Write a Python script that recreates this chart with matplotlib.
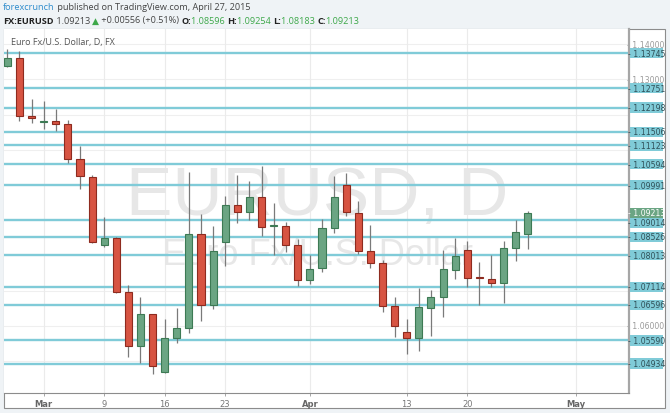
import numpy as np
import pandas as pd
import matplotlib
matplotlib.use("Agg")
import matplotlib.pyplot as plt
from matplotlib.patches import Rectangle

# EURUSD daily candles, Feb 25 - Apr 27 2015
dates = pd.bdate_range("2015-02-25", periods=44)
opens = [1.1337, 1.1359, 1.1196, 1.1180, 1.1182, 1.1173, 1.1074, 1.1024, 1.0829, 1.0849,
         1.0697, 1.0544, 1.0633, 1.0469, 1.0565, 1.0595, 1.0860, 1.0660, 1.0837, 1.0943,
         1.0923, 1.0967, 1.0883, 1.0885, 1.0830, 1.0731, 1.0764, 1.0877, 1.1001, 1.0921,
         1.0814, 1.0778, 1.0657, 1.0584, 1.0565, 1.0652, 1.0683, 1.0760, 1.0816, 1.0738,
         1.0733, 1.0722, 1.0821, 1.08596]
highs = [1.1386, 1.1379, 1.1244, 1.1239, 1.1216, 1.1184, 1.1112, 1.1029, 1.0908, 1.0852,
         1.0717, 1.0683, 1.0633, 1.0620, 1.0650, 1.1036, 1.0918, 1.0883, 1.0970, 1.1028,
         1.1012, 1.1053, 1.0949, 1.0894, 1.0847, 1.0800, 1.0904, 1.1025, 1.1034, 1.0954,
         1.0887, 1.0787, 1.0683, 1.0620, 1.0707, 1.0702, 1.0817, 1.0849, 1.0842, 1.0781,
         1.0801, 1.0842, 1.0902, 1.09254]
lows = [1.1336, 1.1182, 1.1175, 1.1159, 1.1154, 1.1062, 1.0989, 1.0835, 1.0823, 1.0694,
        1.0511, 1.0495, 1.0463, 1.0468, 1.0552, 1.0580, 1.0615, 1.0648, 1.0769, 1.0892,
        1.0902, 1.0855, 1.0801, 1.0809, 1.0714, 1.0719, 1.0752, 1.0864, 1.0911, 1.0804,
        1.0764, 1.0639, 1.0570, 1.0521, 1.0530, 1.0573, 1.0626, 1.0733, 1.0712, 1.0660,
        1.0710, 1.0665, 1.0785, 1.08183]
closes = [1.1359, 1.1195, 1.1189, 1.1181, 1.1173, 1.1074, 1.1025, 1.0837, 1.0850, 1.0697,
          1.0544, 1.0633, 1.0487, 1.0565, 1.0595, 1.0860, 1.0660, 1.0814, 1.0943, 1.0923,
          1.0967, 1.0882, 1.0884, 1.0831, 1.0731, 1.0762, 1.0877, 1.0967, 1.0923, 1.0814,
          1.0779, 1.0658, 1.0599, 1.0565, 1.0653, 1.0683, 1.0761, 1.0799, 1.0736, 1.0735,
          1.0721, 1.0821, 1.0866, 1.09213]

levels = [1.13745, 1.12751, 1.12198, 1.11506, 1.11123, 1.10594, 1.09991,
          1.09014, 1.08526, 1.08013, 1.07114, 1.06596, 1.05590, 1.04934]
last_price = 1.09213
grid_prices = [1.05, 1.06, 1.07, 1.08, 1.09, 1.10, 1.11, 1.12, 1.13, 1.14]
scale_labels = [1.06, 1.13, 1.14]   # round prices not hidden behind the level boxes
date_ticks = ["2015-03-02", "2015-03-09", "2015-03-16", "2015-03-23",
              "2015-04-01", "2015-04-13", "2015-04-20", "2015-05-01"]
date_labels = ["Mar", "9", "16", "23", "Apr", "13", "20", "May"]

W, H = 670, 414
UP, DOWN = "#6ba583", "#d75442"
UP_EDGE, DOWN_EDGE = "#3d7a54", "#8e2b1f"
LEVEL_C = "#80cbd8"


def fpos(x, y):
    return x / W, 1 - y / H


fig = plt.figure(figsize=(W / 100, H / 100), dpi=100, facecolor="#eff3f6")
frame = Rectangle(fpos(4, 409), 661 / W, 379 / H, transform=fig.transFigure,
                  facecolor="white", edgecolor="#8c8c8c", lw=0.8, zorder=0)
fig.add_artist(frame)

ax = fig.add_axes([4 / W, 1 - 394 / H, 625 / W, 364 / H])
ax.set_facecolor("white")
ax.set_xlim(-0.28, 51.37)
ax.set_ylim(1.04099, 1.14426)

x = np.arange(len(dates))
o = np.array(opens); c = np.array(closes)
hi = np.array(highs); lo = np.array(lows)
up = c >= o

# grid
for p in grid_prices:
    ax.axhline(p, color="#efefef", lw=0.8, zorder=0)
all_days = pd.bdate_range(dates[0], "2015-05-01")
tick_x = [all_days.get_loc(pd.Timestamp(d)) for d in date_ticks]
for tx in tick_x:
    ax.axvline(tx, color="#ebebeb", lw=0.8, zorder=0)

# watermark
ax.text(0.5008, 0.492, "EURUSD, D", transform=ax.transAxes, ha="center", va="baseline",
        fontsize=50, color="#e7e7e7", family="Liberation Sans", zorder=0)
ax.text(0.5008, 0.355, "Euro Fx/U.S. Dollar", transform=ax.transAxes, ha="center",
        va="baseline", fontsize=26, color="#e7e7e7", family="Liberation Sans", zorder=0)

# support / resistance lines
for lv in levels:
    ax.axhline(lv, color=LEVEL_C, lw=1.7, zorder=2)

# candles
ax.vlines(x, lo, hi, color="#7a7a7a", lw=0.9, zorder=3)
body = np.maximum(np.abs(c - o), 0.0003)
ax.bar(x, body, bottom=np.minimum(o, c), width=0.58,
       color=np.where(up, UP, DOWN), edgecolor=np.where(up, UP_EDGE, DOWN_EDGE),
       lw=0.8, zorder=4)

# axes styling
for s in ["top", "left"]:
    ax.spines[s].set_visible(False)
ax.spines["right"].set_color("#a6a6a6")
ax.spines["right"].set_linewidth(1.6)
ax.spines["bottom"].set_color("#8c8c8c")
ax.spines["bottom"].set_linewidth(0.8)
ax.set_yticks([])
ax.set_xticks(tick_x)
ax.set_xticklabels(date_labels)
ax.tick_params(axis="x", length=2, width=0.6, color="#999999", pad=2,
               labelsize=6, labelcolor="#777777")
for lab in ax.get_xticklabels():
    if lab.get_text() in ("Mar", "Apr", "May"):
        lab.set_fontweight("bold")
        lab.set_color("#666666")

# right price scale
yt = ax.get_yaxis_transform()
bh = 0.0029


def price_box(p, ypos, face, tcol):
    ax.add_patch(Rectangle((1.0016, ypos - bh / 2), 0.0528, bh, transform=yt,
                           facecolor=face, edgecolor="none", clip_on=False, zorder=5))
    ax.text(1.028, ypos, "- %.5f" % p, transform=yt, ha="center", va="center",
            fontsize=5.6, color=tcol, clip_on=False, zorder=6)


for p in scale_labels:
    ax.text(1.027, p, "- %.5f" % p, transform=yt, ha="center", va="center",
            fontsize=5.6, color="#9a9a9a", clip_on=False, zorder=1)
for lv in levels:
    ypos = lv
    # the scale pushes a label down when it would collide with the last price
    if abs(lv - last_price) < bh and lv < last_price:
        ypos = last_price - bh
    price_box(lv, ypos, LEVEL_C, "#2f4f57")
price_box(last_price, last_price, UP, "white")

# legend line inside chart
fig.text(*fpos(11, 43), "Euro Fx/U.S. Dollar, D, FX", fontsize=6.5, color="#555555",
         va="center", family="Open Sans")

# header
renderer = fig.canvas.get_renderer()


def write_line(y, parts, x0=3):
    xp = x0
    for txt, col, wt in parts:
        t = fig.text(*fpos(xp, y), txt, fontsize=6.6, color=col, fontweight=wt,
                     va="center", family=["Open Sans", "DejaVu Sans"])
        xp = t.get_window_extent(renderer).x1 * W / fig.bbox.width


GREEN = "#3ea84a"
write_line(7, [("forexcrunch", "#2f8ccc", "normal"),
               (" published on TradingView.com, April 27, 2015", "#444444", "normal")])
write_line(21, [("FX:EURUSD", "#222222", "bold"), (" 1.09213 ", "#444444", "normal"),
                ("▲", GREEN, "normal"), (" +0.00556 (+0.51%) ", "#444444", "normal"),
                ("O:", "#222222", "bold"), ("1.08596 ", GREEN, "normal"),
                ("H:", "#222222", "bold"), ("1.09254 ", GREEN, "normal"),
                ("L:", "#222222", "bold"), ("1.08183 ", GREEN, "normal"),
                ("C:", "#222222", "bold"), ("1.09213", GREEN, "normal")])

fig.savefig("out.png", dpi=100, facecolor=fig.get_facecolor())
